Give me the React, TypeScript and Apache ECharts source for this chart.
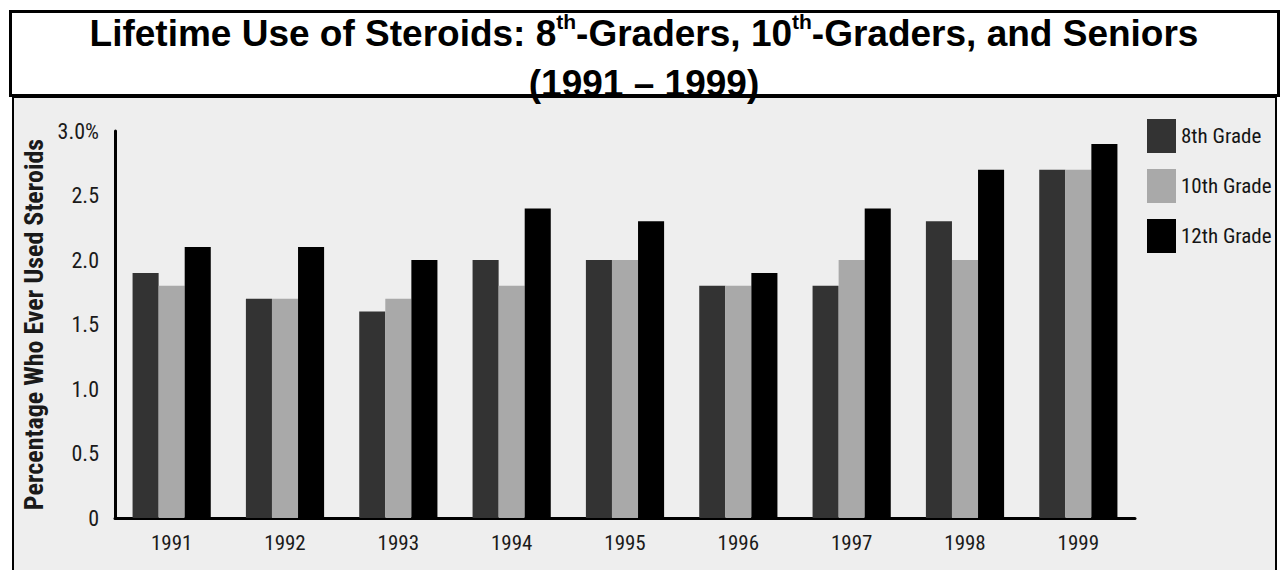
import React, { useEffect, useRef } from "react";
import * as echarts from "echarts";

const years = ["1991", "1992", "1993", "1994", "1995", "1996", "1997", "1998", "1999"];
const grade8 = [1.9, 1.7, 1.6, 2.0, 2.0, 1.8, 1.8, 2.3, 2.7];
const grade10 = [1.8, 1.7, 1.7, 1.8, 2.0, 1.8, 2.0, 2.0, 2.7];
const grade12 = [2.1, 2.1, 2.0, 2.4, 2.3, 1.9, 2.4, 2.7, 2.9];
const seriesNames = ["8th Grade", "10th Grade", "12th Grade"];
const yTicks = [0, 0.5, 1.0, 1.5, 2.0, 2.5, 3.0];
const titleLine1 = "Lifetime Use of Steroids: 8{sup|th}-Graders, 10{sup|th}-Graders, and Seniors";
const titleLine2 = "(1991 – 1999)";
const yAxisName = "Percentage Who Ever Used Steroids";

const COND = "'Roboto Condensed', 'DejaVu Sans Condensed', sans-serif";
const ARIAL = "'Liberation Sans', Arial, sans-serif";

export default function App() {
  const ref = useRef<HTMLDivElement>(null);
  useEffect(() => {
    if (!ref.current) return;
    const chart = echarts.init(ref.current, null, { renderer: "svg" });
    chart.setOption({
      animation: false,
      backgroundColor: "#ffffff",
      graphic: {
        elements: [
          {
            type: "rect",
            z: -10,
            silent: true,
            shape: { x: 13, y: 97, width: 1263, height: 600 },
            style: { fill: "#eeeeee", stroke: "#000", lineWidth: 2 },
          },
          {
            type: "rect",
            z: -9,
            silent: true,
            shape: { x: 10.5, y: 11.5, width: 1268, height: 84 },
            style: { fill: "#ffffff", stroke: "#000", lineWidth: 3 },
          },
          {
            type: "text",
            z: 10,
            x: 644,
            y: 33,
            style: {
              text: titleLine1,
              fontFamily: ARIAL,
              fontWeight: "bold",
              fontSize: 37,
              lineHeight: 44,
              fill: "#000",
              align: "center",
              verticalAlign: "middle",
              rich: {
                sup: {
                  fontFamily: ARIAL,
                  fontWeight: "bold",
                  fontSize: 21,
                  lineHeight: 21,
                  verticalAlign: "top",
                  fill: "#000",
                },
              },
            },
          },
          {
            type: "text",
            z: 10,
            x: 644,
            y: 83,
            style: {
              text: titleLine2,
              fontFamily: ARIAL,
              fontWeight: "bold",
              fontSize: 37,
              fill: "#000",
              align: "center",
              verticalAlign: "middle",
            },
          },
        ],
      },
      legend: {
        orient: "vertical",
        left: 1142,
        top: 114,
        itemWidth: 29,
        itemHeight: 34,
        itemGap: 16,
        icon: "rect",
        data: seriesNames,
        textStyle: { fontFamily: COND, fontSize: 21, color: "#151515" },
      },
      grid: { left: 115, right: 145, top: 131, bottom: 52, containLabel: false },
      xAxis: {
        type: "category",
        data: years,
        axisLine: { show: true, lineStyle: { color: "#000", width: 3 } },
        axisTick: { show: false },
        axisLabel: { fontFamily: COND, fontSize: 21, color: "#1a1a1a", margin: 14 },
      },
      yAxis: {
        type: "value",
        min: 0,
        max: 3,
        interval: 0.5,
        name: yAxisName,
        nameLocation: "middle",
        nameRotate: 90,
        nameGap: 68,
        nameTextStyle: { fontFamily: COND, fontSize: 26, fontWeight: "bold", color: "#1a1a1a" },
        axisLine: { show: true, lineStyle: { color: "#000", width: 3 } },
        axisTick: { show: false },
        splitLine: { show: false },
        axisLabel: {
          fontFamily: COND,
          fontSize: 22,
          color: "#1a1a1a",
          margin: 16,
          formatter: (v: number) => {
            const t = yTicks.find((x) => Math.abs(x - v) < 1e-9);
            if (t === undefined) return "";
            if (t === 0) return "0";
            if (t === 3) return "3.0%";
            return t.toFixed(1);
          },
        },
      },
      series: [
        {
          name: seriesNames[0],
          type: "bar",
          data: grade8,
          barGap: "0%",
          barCategoryGap: "31%",
          itemStyle: { color: "#333333" },
        },
        {
          name: seriesNames[1],
          type: "bar",
          data: grade10,
          barGap: "0%",
          barCategoryGap: "31%",
          itemStyle: { color: "#a9a9a9" },
        },
        {
          name: seriesNames[2],
          type: "bar",
          data: grade12,
          barGap: "0%",
          barCategoryGap: "31%",
          itemStyle: { color: "#000000" },
        },
      ],
    });
    return () => chart.dispose();
  }, []);
  return (
    <div
      ref={ref}
      style={{ position: "fixed", left: 0, top: 0, width: 1280, height: 570 }}
    />
  );
}
